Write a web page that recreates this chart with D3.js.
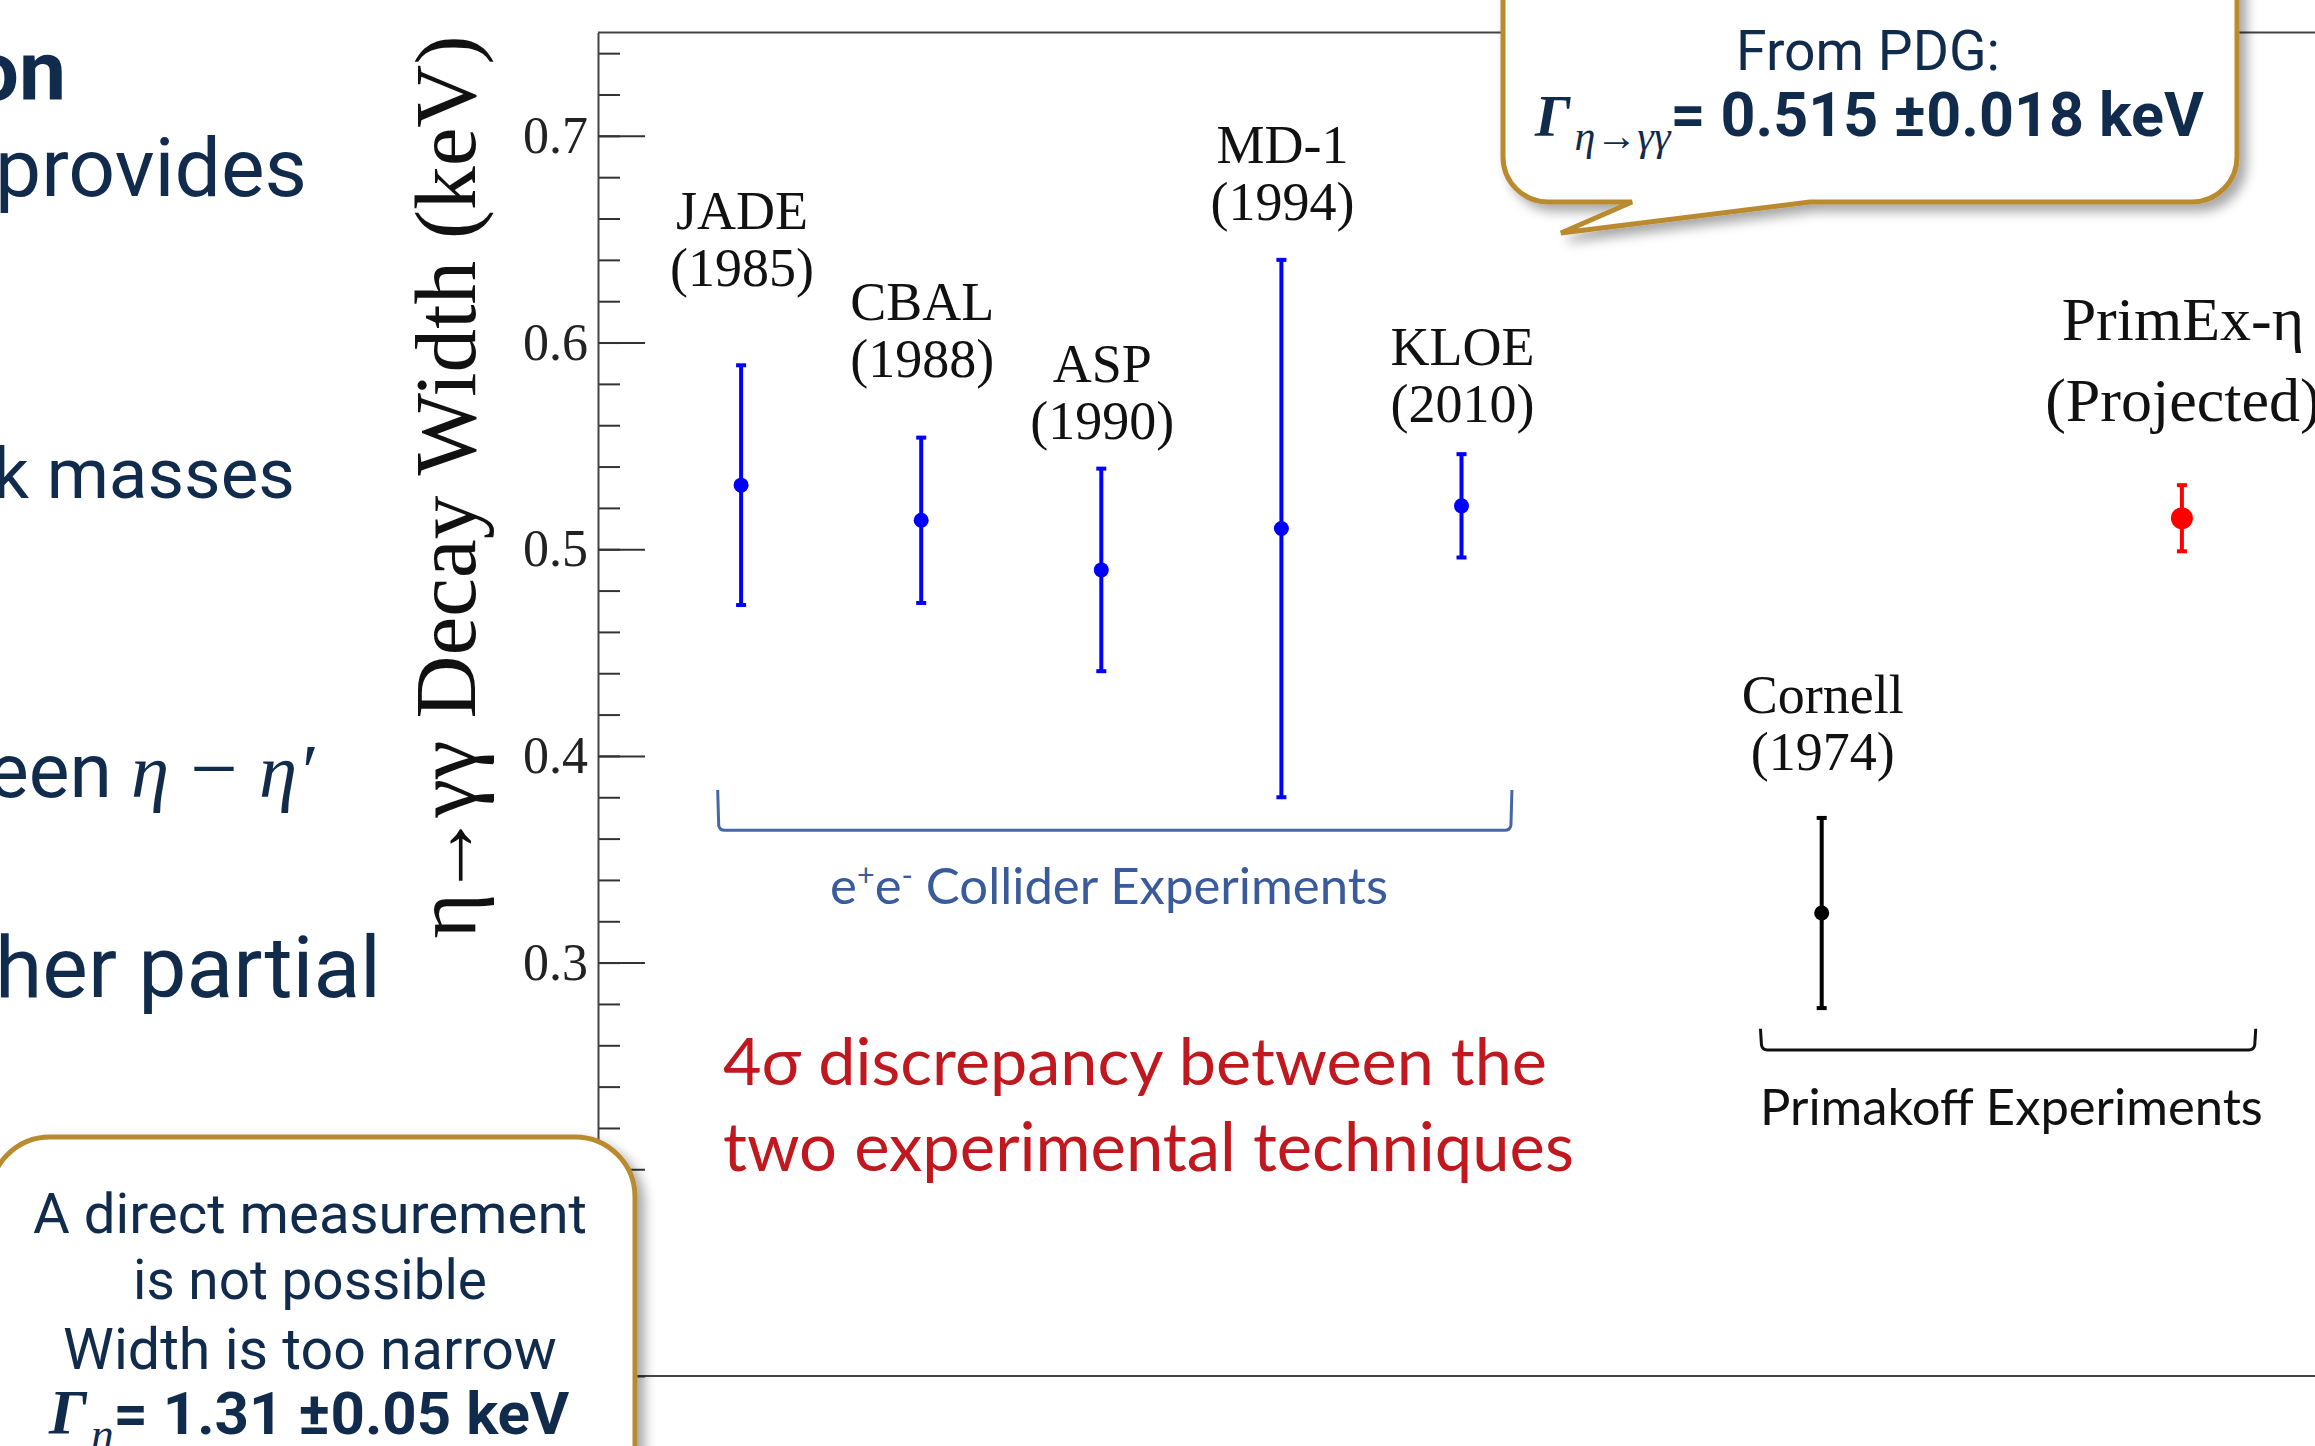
<!DOCTYPE html>
<html>
<head>
<meta charset="utf-8">
<script src="https://cdn.jsdelivr.net/npm/d3@7"></script>
<style>
  body { margin: 0; background: #fff; overflow: hidden; }
  svg { display: block; }
</style>
</head>
<body>
<div id="chart"></div>
<script>
// measurements of the eta -> gamma gamma width (keV)
var experiments = ["JADE", "CBAL", "ASP", "MD-1", "KLOE", "Cornell", "PrimEx-η"];
var years = ["(1985)", "(1988)", "(1990)", "(1994)", "(2010)", "(1974)", "(Projected)"];
var slots = [1, 2, 3, 4, 5, 7, 9];
var widths = [0.531, 0.514, 0.490, 0.510, 0.521, 0.324, 0.515];
var errors = [0.058, 0.040, 0.049, 0.130, 0.025, 0.046, 0.016];
var kinds = ["collider", "collider", "collider", "collider", "collider", "primakoff", "projected"];
// name labels are hung at these widths (keV)
var labelAt = [0.655, 0.611, 0.581, 0.687, 0.589, 0.421, 0.601];

var majorTicks = [0.1, 0.2, 0.3, 0.4, 0.5, 0.6, 0.7];
var minorTicks = d3.range(0.1, 0.7501, 0.02);

// brackets grouping the two techniques: [from slot, to slot, top, bottom]
var colliderSpan = [0.87, 5.28, 0.3835, 0.364];
var primakoffSpan = [6.66, 9.41, 0.268, 0.2577];

var svgWidth = 2315, svgHeight = 1446;
var plotLeft = 598, plotTop = 32.5, plotBottom = 1376;

var navy = "#112b4c";
var gold = "#b98a2f";
var serif = "'Liberation Serif', 'Times New Roman', serif";
var slideFont = "Roboto, 'Open Sans', sans-serif";
var calibri = "Lato, 'Open Sans', sans-serif";

var svg = d3.select("#chart")
  .append("svg")
  .attr("width", svgWidth)
  .attr("height", svgHeight);

var defs = svg.append("defs");
defs.append("filter")
  .attr("id", "shadow")
  .attr("x", "-10%").attr("y", "-10%")
  .attr("width", "130%").attr("height", "130%")
  .append("feDropShadow")
  .attr("dx", 7).attr("dy", 7)
  .attr("stdDeviation", 6)
  .attr("flood-color", "#000")
  .attr("flood-opacity", 0.35);

// shrink/grow a text's font until it spans the wanted width
function fit(sel, w) {
  var len = sel.node().getComputedTextLength();
  var fs = parseFloat(sel.attr("font-size"));
  sel.attr("font-size", fs * w / len);
  return sel;
}

// scales
var yScale = d3.scaleLinear().domain([0.1, 0.75]).range([plotBottom, plotTop]);
var xScale = d3.scaleLinear().domain([0, 10]).range([561, 2362]);

// frame lines (top and bottom)
svg.append("line")
  .attr("x1", plotLeft).attr("x2", svgWidth)
  .attr("y1", yScale(0.75)).attr("y2", yScale(0.75))
  .attr("stroke", "#444").attr("stroke-width", 2);
svg.append("line")
  .attr("x1", plotLeft).attr("x2", svgWidth)
  .attr("y1", yScale(0.1)).attr("y2", yScale(0.1))
  .attr("stroke", "#444").attr("stroke-width", 2);

// minor ticks
svg.append("g")
  .attr("transform", `translate(${plotLeft},0)`)
  .call(d3.axisLeft(yScale).tickValues(minorTicks).tickSize(-22).tickFormat(""))
  .call(g => g.select(".domain").remove())
  .call(g => g.selectAll("line").attr("stroke", "#333").attr("stroke-width", 2));

// major ticks + labels
svg.append("g")
  .attr("transform", `translate(${plotLeft},0)`)
  .call(d3.axisLeft(yScale).tickValues(majorTicks).tickSize(-47).tickSizeOuter(0)
    .tickPadding(10).tickFormat(d3.format(".1f")))
  .call(g => g.select(".domain").attr("stroke", "#444").attr("stroke-width", 2))
  .call(g => g.selectAll("line").attr("stroke", "#333").attr("stroke-width", 2))
  .call(g => g.selectAll("text")
    .attr("font-family", serif)
    .attr("font-size", 52)
    .attr("fill", "#222"));

// y axis title
var yTitle = svg.append("text")
  .attr("transform", "translate(475,487) rotate(-90)")
  .attr("text-anchor", "middle")
  .attr("font-family", serif)
  .attr("font-size", 82)
  .attr("fill", "#111");
yTitle.append("tspan").text("η");
yTitle.append("tspan").attr("dx", -6).text("→");
yTitle.append("tspan").attr("dx", -6).text("γγ Decay Width (keV)");
fit(yTitle, 915);

// error bars
var colour = {collider: "#0000ff", primakoff: "#000000", projected: "#ff0000"};
var points = experiments.map((name, i) => ({
  name: name, year: years[i], slot: slots[i], value: widths[i],
  err: errors[i], kind: kinds[i], label: labelAt[i]
}));

var bars = svg.append("g").selectAll("g")
  .data(points)
  .enter()
  .append("g");

bars.append("line")
  .attr("x1", d => xScale(d.slot)).attr("x2", d => xScale(d.slot))
  .attr("y1", d => yScale(d.value + d.err)).attr("y2", d => yScale(d.value - d.err))
  .attr("stroke", d => colour[d.kind]).attr("stroke-width", 4);
bars.append("line")
  .attr("x1", d => xScale(d.slot) - 5).attr("x2", d => xScale(d.slot) + 5)
  .attr("y1", d => yScale(d.value + d.err)).attr("y2", d => yScale(d.value + d.err))
  .attr("stroke", d => colour[d.kind]).attr("stroke-width", 4);
bars.append("line")
  .attr("x1", d => xScale(d.slot) - 5).attr("x2", d => xScale(d.slot) + 5)
  .attr("y1", d => yScale(d.value - d.err)).attr("y2", d => yScale(d.value - d.err))
  .attr("stroke", d => colour[d.kind]).attr("stroke-width", 4);
bars.append("circle")
  .attr("cx", d => xScale(d.slot))
  .attr("cy", d => yScale(d.value))
  .attr("r", d => d.kind == "projected" ? 11 : 7.5)
  .attr("fill", d => colour[d.kind]);

// experiment names
var names = svg.append("g").selectAll("text")
  .data(points)
  .enter()
  .append("text")
  .attr("x", d => xScale(d.slot) + 1)
  .attr("y", d => yScale(d.label))
  .attr("text-anchor", "middle")
  .attr("font-family", serif)
  .attr("font-size", d => d.kind == "projected" ? 62 : 54)
  .attr("fill", "#111");
names.append("tspan").text(d => d.name);
names.append("tspan")
  .attr("x", d => xScale(d.slot) + 1)
  .attr("dy", d => d.kind == "projected" ? 81 : 57)
  .text(d => d.year);

// brackets
function bracket(span, stroke) {
  var x1 = xScale(span[0]), x2 = xScale(span[1]);
  var yt = yScale(span[2]), yb = yScale(span[3]);
  svg.append("path")
    .attr("d", `M${x1},${yt} L${x1 + 1},${yb - 5} Q${x1 + 2},${yb} ${x1 + 7},${yb} L${x2 - 7},${yb} Q${x2 - 2},${yb} ${x2 - 1},${yb - 5} L${x2},${yt}`)
    .attr("fill", "none")
    .attr("stroke", stroke)
    .attr("stroke-width", 3);
}
bracket(colliderSpan, "#4567a6");
bracket(primakoffSpan, "#111");

var collLabel = svg.append("text")
  .attr("x", 1109).attr("y", 904)
  .attr("text-anchor", "middle")
  .attr("font-family", calibri)
  .attr("font-size", 50)
  .attr("fill", "#3a5b9b");
collLabel.append("tspan").text("e");
collLabel.append("tspan").attr("font-size", "0.6em").attr("dy", -18).text("+");
collLabel.append("tspan").attr("dy", 18).text("e");
collLabel.append("tspan").attr("font-size", "0.6em").attr("dy", -18).text("-");
collLabel.append("tspan").attr("dy", 18).text(" Collider Experiments");
fit(collLabel, 558);

var primLabel = svg.append("text")
  .attr("x", 1760).attr("y", 1125)
  .attr("font-family", calibri)
  .attr("font-size", 50)
  .attr("fill", "#111")
  .text("Primakoff Experiments");
fit(primLabel, 503);

var red1 = svg.append("text")
  .attr("x", 723).attr("y", 1085)
  .attr("font-family", calibri)
  .attr("font-size", 60)
  .attr("fill", "#c0181e")
  .text("4σ discrepancy between the");
fit(red1, 824);
var red2 = svg.append("text")
  .attr("x", 723).attr("y", 1171)
  .attr("font-family", calibri)
  .attr("font-size", 60)
  .attr("fill", "#c0181e")
  .text("two experimental techniques");
fit(red2, 851);

// slide text cut off on the left
function slideLine(txt, right, base, span) {
  var t = svg.append("text")
    .attr("x", right).attr("y", base)
    .attr("text-anchor", "end")
    .attr("font-family", slideFont)
    .attr("font-size", 80)
    .attr("fill", navy)
    .text(txt);
  return fit(t, span);
}
svg.append("text")
  .attr("x", 66).attr("y", 100)
  .attr("text-anchor", "end")
  .attr("font-family", slideFont)
  .attr("font-weight", "bold")
  .attr("font-size", 84)
  .attr("fill", navy)
  .text("on");
slideLine("provides", 307, 196, 312);
slideLine("k masses", 295, 498, 302);
slideLine("her partial", 381, 997, 386);
var mix = svg.append("text")
  .attr("x", 314).attr("y", 797)
  .attr("text-anchor", "end")
  .attr("font-family", slideFont)
  .attr("font-size", 84)
  .attr("fill", navy);
mix.append("tspan").text("een ");
mix.append("tspan").attr("font-family", serif).attr("font-style", "italic").text("η");
mix.append("tspan").attr("font-family", serif).attr("font-size", "1.1em").text(" − ");
mix.append("tspan").attr("font-family", serif).attr("font-style", "italic").text("η′");
fit(mix, 326);

// callout bubbles
function bubble(x0, y0, x1, y1, r, tail) {
  var d = `M${x0 + r},${y0} H${x1 - r} A${r},${r} 0 0 1 ${x1},${y0 + r} V${y1 - r} A${r},${r} 0 0 1 ${x1 - r},${y1}`;
  if (tail) d += ` H${tail[1]} L${tail[2]},${tail[3]} L${tail[0]},${y1}`;
  d += ` H${x0 + r} A${r},${r} 0 0 1 ${x0},${y1 - r} V${y0 + r} A${r},${r} 0 0 1 ${x0 + r},${y0} Z`;
  svg.append("path")
    .attr("d", d)
    .attr("fill", "#fff")
    .attr("stroke", gold)
    .attr("stroke-width", 5)
    .attr("filter", "url(#shadow)");
}

function gammaLine(x, y, sub, rest, size, restSize) {
  var t = svg.append("text")
    .attr("x", x).attr("y", y)
    .attr("fill", navy)
    .attr("font-size", size);
  t.append("tspan")
    .attr("font-family", serif).attr("font-style", "italic").attr("font-weight", "bold")
    .attr("font-size", size * 1.05)
    .text("Γ");
  t.append("tspan")
    .attr("font-family", serif).attr("font-style", "italic")
    .attr("font-size", size * 0.75)
    .attr("dy", size * 0.25)
    .attr("dx", 4)
    .text(sub);
  t.append("tspan")
    .attr("font-family", slideFont).attr("font-weight", "bold")
    .attr("font-size", restSize)
    .attr("dy", -size * 0.25)
    .text(rest);
  return t;
}

// PDG bubble, top right
bubble(1503, -60, 2237, 202, 45, [1632, 1810, 1561, 233]);
var pdg = svg.append("text")
  .attr("x", 1868).attr("y", 70)
  .attr("text-anchor", "middle")
  .attr("font-family", slideFont)
  .attr("font-size", 55)
  .attr("fill", navy)
  .text("From PDG:");
fit(pdg, 264);
gammaLine(1535, 136, "η→γγ", "= 0.515 ±0.018 keV", 56, 61);

// width bubble, bottom left
bubble(-10, 1137, 635, 1520, 60, null);
var note = [["A direct measurement", 1233, 554], ["is not possible", 1299, 354], ["Width is too narrow", 1369, 494]];
note.forEach(function (n) {
  var t = svg.append("text")
    .attr("x", 310).attr("y", n[1])
    .attr("text-anchor", "middle")
    .attr("font-family", slideFont)
    .attr("font-size", 56)
    .attr("fill", navy)
    .text(n[0]);
  fit(t, n[2]);
});
gammaLine(49, 1434, "η", "= 1.31 ±0.05 keV", 60, 60);
</script>
</body>
</html>
